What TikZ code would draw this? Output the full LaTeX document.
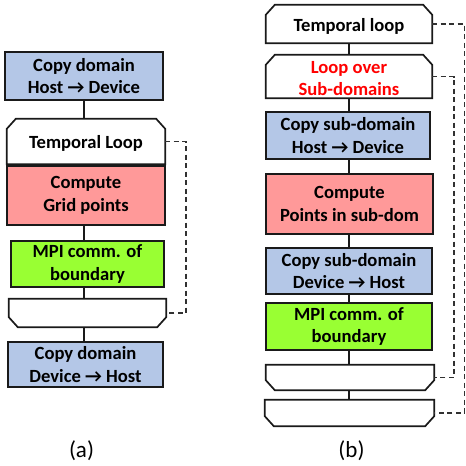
\documentclass[tikz,border=0pt]{standalone}
\usepackage{fontspec}
\setmainfont{Carlito}
\definecolor{boxblue}{HTML}{B4C7E7}
\definecolor{boxred}{HTML}{FF9999}
\definecolor{boxgreen}{HTML}{99FF33}
\definecolor{edge}{HTML}{1A1A1A}
\tikzset{
  txt/.style={inner sep=0pt, align=center, font=\fontsize{18.6}{22.5}\selectfont\bfseries},
  box/.style={txt, draw=edge, line width=1.7pt},
  shapeline/.style={draw=edge, line width=1.7pt, fill=white, line join=miter},
  conn/.style={draw=edge, line width=1.4pt},
  loopline/.style={draw=edge!90, line width=1.4pt, dash pattern=on 5pt off 3.5pt},
  caption/.style={inner sep=0pt, font=\fontsize{23}{27}\selectfont}
}
\newcommand\chamtop[1]{\path[shapeline] (#1.south west) -- ([yshift=-10pt]#1.north west) -- ([xshift=9pt]#1.north west) -- ([xshift=-9pt]#1.north east) -- ([yshift=-10pt]#1.north east) -- (#1.south east) -- cycle;}
\newcommand\chambot[1]{\path[shapeline] (#1.north west) -- ([yshift=10pt]#1.south west) -- ([xshift=9pt]#1.south west) -- ([xshift=-9pt]#1.south east) -- ([yshift=10pt]#1.south east) -- (#1.north east) -- cycle;}
\begin{document}
\begin{tikzpicture}[x=1pt,y=-1pt]
\path[use as bounding box, fill=white] (0,0) rectangle (466,466);
% ---------- (a)
\node[box, fill=boxblue, minimum width=158pt, minimum height=48pt] (a1) at (84,76) {Copy domain\\Host → Device};
\node[txt, minimum width=158pt, minimum height=45pt] (a2) at (86,141.5) {};
\node[box, fill=boxred, minimum width=158pt, minimum height=59pt] (a3) at (86,195.5) {Compute\\Grid points};
\node[box, fill=boxgreen, minimum width=153pt, minimum height=46pt] (a4) at (87.5,264) {MPI comm. of\\boundary};
\node[txt, minimum width=157pt, minimum height=28pt] (a5) at (87.5,313) {};
\node[box, fill=boxblue, minimum width=155pt, minimum height=45pt] (a6) at (85.5,364.5) {Copy domain\\Device → Host};
\chamtop{a2}
\chambot{a5}
\node[txt] at ([yshift=-2pt]a2.center) {Temporal Loop};
\coordinate (ax) at (84,0);
\draw[conn] (a1.south -| ax) -- (a2.north -| ax);
\draw[conn] (a2.south -| ax) -- (a3.north -| ax);
\draw[conn] (a3.south -| ax) -- (a4.north -| ax);
\draw[conn] (a4.south -| ax) -- (a5.north -| ax);
\draw[conn] (a5.south -| ax) -- (a6.north -| ax);
\coordinate (ad) at (186,0);
\draw[loopline] (a2.east) -- (a2.east -| ad) -- (a5.east -| ad) -- (a5.east);
\node[caption] (capa) at (81.5,451) {(a)};
% ---------- (b)
\node[txt, minimum width=166pt, minimum height=38pt] (b1) at (349,24) {};
\node[txt, minimum width=166pt, minimum height=43pt] (b2) at (349,76.5) {};
\node[box, fill=boxblue, minimum width=164pt, minimum height=47pt] (b3) at (348,135.5) {Copy sub-domain\\Host → Device};
\node[box, fill=boxred, minimum width=167pt, minimum height=60pt] (b4) at (349.5,204) {Compute\\Points in sub-dom};
\node[box, fill=boxblue, minimum width=166pt, minimum height=46pt] (b5) at (349,271) {Copy sub-domain\\Device → Host};
\node[box, fill=boxgreen, minimum width=166pt, minimum height=47pt] (b6) at (349,326.5) {MPI comm. of\\boundary};
\node[txt, minimum width=168pt, minimum height=25pt] (b7) at (350,377.5) {};
\node[txt, minimum width=169pt, minimum height=26pt] (b8) at (349.5,413) {};
\chamtop{b1}
\chamtop{b2}
\chambot{b7}
\chambot{b8}
\node[txt] at ([yshift=-2pt]b1.center) {Temporal loop};
\node[txt, text=red] at ([yshift=-2pt]b2.center) {Loop over\\Sub-domains};
\coordinate (bx) at (349,0);
\draw[conn] (b1.south -| bx) -- (b2.north -| bx);
\draw[conn] (b2.south -| bx) -- (b3.north -| bx);
\draw[conn] (b3.south -| bx) -- (b4.north -| bx);
\draw[conn] (b4.south -| bx) -- (b5.north -| bx);
\draw[conn] (b5.south -| bx) -- (b6.north -| bx);
\draw[conn] (b6.south -| bx) -- (b7.north -| bx);
\draw[conn] (b7.south -| bx) -- (b8.north -| bx);
\coordinate (bdi) at (454,0);
\coordinate (bdo) at (464.5,0);
\draw[loopline] (b2.east) -- (b2.east -| bdi) -- (b7.east -| bdi) -- (b7.east);
\draw[loopline] (b1.east) -- (b1.east -| bdo) -- (b8.east -| bdo) -- (b8.east);
\node[caption] (capb) at (351.5,451) {(b)};
\end{tikzpicture}
\end{document}
